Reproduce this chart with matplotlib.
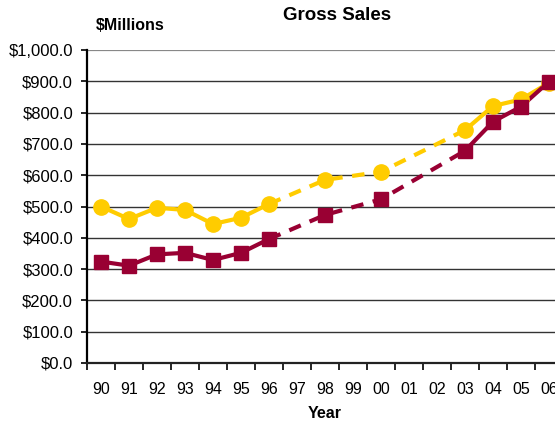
import numpy as np
import matplotlib
matplotlib.use("Agg")
import matplotlib.pyplot as plt

plt.rcParams['font.family'] = ['Liberation Sans', 'DejaVu Sans']

years = ["90", "91", "92", "93", "94", "95", "96", "97", "98", "99",
         "00", "01", "02", "03", "04", "05", "06"]
nan = np.nan
series_a = [500, 460, 496, 489, 444, 464, 508, nan, 585, nan, 611, nan, nan, 744, 821, 842, 895]
series_b = [324, 311, 347, 352, 329, 352, 396, nan, 473, nan, 523, nan, nan, 678, 771, 819, 899]
yticks = [0, 100, 200, 300, 400, 500, 600, 700, 800, 900, 1000]
ytick_labels = ["$0.0", "$100.0", "$200.0", "$300.0", "$400.0", "$500.0",
                "$600.0", "$700.0", "$800.0", "$900.0", "$1,000.0"]

YELLOW = "#FFCC00"
MAROON = "#990033"

fig = plt.figure(figsize=(5.55, 4.21), dpi=100)
ax = fig.add_axes([87/555, (421-363)/421, (563-87)/555, (363-50)/421])

x = np.arange(len(years))

def draw(vals, color, marker, ms):
    v = np.array(vals, dtype=float)
    ok = ~np.isnan(v)
    xi = x[ok]
    vi = v[ok]
    i96 = years.index("96")
    i03 = years.index("03")
    m1 = xi <= i96
    m2 = (xi >= i96) & (xi <= i03)
    m3 = xi >= i03
    ax.plot(xi[m1], vi[m1], color=color, lw=3, zorder=3)
    ax.plot(xi[m2], vi[m2], color=color, lw=3, ls=(0, (3.0, 2.3)), dash_capstyle='butt', zorder=3)
    ax.plot(xi[m3], vi[m3], color=color, lw=3, zorder=3)
    ax.plot(xi, vi, ls='none', marker=marker, ms=ms, color=color, mec=color, zorder=4, clip_on=False)

draw(series_a, YELLOW, 'o', 11)
draw(series_b, MAROON, 's', 10.5)

ax.set_xlim(-0.5, len(years) - 0.5)
ax.set_ylim(0, 1000)
ax.set_yticks(yticks)
ax.set_yticklabels(ytick_labels, fontsize=12)
ax.set_xticks(x)
ax.set_xticklabels(years, fontsize=11.5)
ax.set_xticks(np.arange(-0.5, len(years), 1), minor=True)
ax.tick_params(axis='x', which='major', length=0, pad=14)
ax.tick_params(axis='x', which='minor', length=5, width=1.2, color='black')
ax.tick_params(axis='y', length=4, width=1.2, pad=6, color='black')

for yv in yticks[1:]:
    ax.axhline(yv, color='#333333' if yv != 1000 else '#888888', lw=1.0 if yv != 1000 else 1.6, zorder=1)

for s in ['top', 'right']:
    ax.spines[s].set_visible(False)
ax.spines['left'].set_linewidth(1.6)
ax.spines['bottom'].set_linewidth(1.6)
ax.spines['bottom'].set_color('#222222')

fig.text(337/555, 1 - 16/421, "Gross Sales", fontsize=13.5, fontweight='bold', ha='center', va='center')
fig.text(130/555, 1 - 26/421, "$Millions", fontsize=11.5, fontweight='bold', ha='center', va='center')
fig.text(325/555, 1 - 413/421, "Year", fontsize=11.5, fontweight='bold', ha='center', va='center')

fig.savefig("out.png", dpi=100)
